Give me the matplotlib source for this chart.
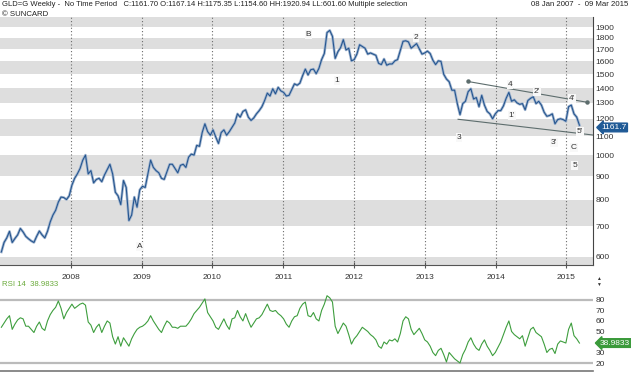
import matplotlib
matplotlib.use("Agg")
import matplotlib.pyplot as plt
import matplotlib.ticker as mticker
import pandas as pd

plt.rcParams['font.family'] = ['Liberation Sans', 'DejaVu Sans']

# gold weekly closes, read every second week off the chart (08 Jan 2007 .. 09 Mar 2015)
start = '2007-01-08'
price = [
    615, 645, 660, 682, 645, 658, 670, 692, 680, 665, 657, 650, 645, 665, 683, 670, 660, 682, 715, 740,
    758, 790, 810, 808, 800, 815,
    860, 890, 910, 935, 975, 1000, 910, 925, 870, 885, 890, 875, 905, 930, 955, 910, 830, 815, 780, 880,
    850, 720, 740, 810, 770, 840,
    855, 850, 910, 975, 940, 925, 915, 890, 885, 920, 955, 955, 935, 915, 950, 955, 940, 990, 1005, 1000,
    1050, 1045, 1120, 1170, 1125, 1105,
    1135, 1095, 1060, 1120, 1135, 1105, 1125, 1150, 1175, 1230, 1210, 1245, 1255, 1210, 1190, 1205, 1230,
    1250, 1275, 1315, 1365, 1345, 1395, 1360, 1405, 1380,
    1370, 1345, 1350, 1390, 1430, 1420, 1435, 1490, 1540, 1495, 1535, 1540, 1505, 1545, 1615, 1665, 1850,
    1870, 1815, 1625, 1680, 1715, 1785, 1695, 1710, 1605,
    1615, 1660, 1740, 1725, 1710, 1660, 1670, 1660, 1650, 1585, 1575, 1620, 1570, 1580, 1580, 1605, 1615,
    1690, 1770, 1775, 1765, 1710, 1730, 1750, 1705, 1660, 1670,
    1685, 1665, 1610, 1575, 1605, 1600, 1500, 1465, 1445, 1385, 1385, 1295, 1225, 1295, 1310, 1375, 1395,
    1325, 1335, 1275, 1350, 1285, 1245, 1230, 1200, 1230,
    1250, 1250, 1280, 1330, 1370, 1310, 1320, 1300, 1290, 1295, 1255, 1315, 1330, 1340, 1295, 1310, 1285,
    1240, 1215, 1220, 1230, 1170, 1195, 1200, 1195, 1185,
    1275, 1285, 1230, 1210, 1161.7,
]
rsi = [
    54, 58, 62, 65, 52, 57, 61, 63, 62, 55, 55, 52, 49, 55, 59, 53, 51, 60, 66, 70,
    73, 79, 72, 62, 68, 72, 76, 72, 74, 76, 77, 75, 59, 56, 49, 54, 57, 49, 55, 60,
    58, 45, 38, 45, 36, 44, 40, 36, 43, 48, 52, 54, 55, 57, 60, 65, 60, 56, 52, 49,
    55, 60, 58, 54, 54, 53, 55, 55, 55, 58, 62, 67, 70, 73, 77, 81, 68, 64, 60, 54,
    52, 57, 62, 56, 52, 62, 63, 70, 64, 60, 67, 60, 54, 58, 62, 63, 66, 71, 76, 70,
    69, 70, 67, 65, 62, 57, 54, 60, 64, 65, 72, 76, 78, 65, 64, 68, 62, 60, 70, 76,
    84, 82, 78, 55, 48, 53, 58, 55, 47, 38, 43, 46, 50, 54, 52, 50, 47, 45, 42, 36,
    34, 40, 38, 42, 41, 43, 40, 48, 60, 64, 62, 52, 47, 50, 53, 48, 42, 40, 36, 30,
    27, 32, 34, 28, 21, 30, 27, 24, 22, 20, 28, 33, 40, 44, 38, 34, 32, 38, 42, 36,
    32, 27, 30, 35, 40, 47, 54, 60, 50, 47, 45, 43, 46, 36, 44, 52, 54, 49, 47, 45,
    38, 30, 33, 34, 29, 38, 41, 40, 39, 52, 58, 46, 43, 38.9833,
]
dates = pd.date_range(start, periods=len(price), freq='14D')

price_ticks = [600, 700, 800, 900, 1000, 1100, 1200, 1300, 1400, 1500, 1600, 1700, 1800, 1900]
rsi_ticks = [20, 30, 50, 60, 70, 80]
years = list(range(2008, 2016))

# elliott wave labels: text, date, price
waves = [
    ('A', '2008-12-24', 631), ('B', '2011-05-12', 1835), ('1', '2011-10-05', 1457),
    ('2', '2012-11-15', 1807), ('3', '2013-06-26', 1090), ('4', '2014-03-15', 1428),
    ("1'", '2014-03-25', 1217), ("2'", '2014-08-01', 1379), ("3'", '2014-10-28', 1063),
    ("4'", '2015-01-30', 1331), ("5'", '2015-03-11', 1128), ('C', '2015-02-08', 1041),
    ('5', '2015-02-13', 951),
]
upper_dates = ['2013-08-11', '2015-04-16']
upper_vals = [1447, 1304]
lower_dates = ['2013-06-21', '2015-05-18']
lower_vals = [1197, 1106]

W, H = 631, 373
def box(l, t, r, b):
    return [l / W, 1 - b / H, (r - l) / W, (b - t) / H]

fig = plt.figure(figsize=(W / 100, H / 100), dpi=100)
ax = fig.add_axes(box(0, 17, 593, 265))
ax2 = fig.add_axes(box(0, 281, 593, 371))

# ---- price panel
ax.set_yscale('log')
ax.set_ylim(576, 2000)
xl = (pd.Timestamp('2007-01-01'), pd.Timestamp('2015-05-18'))
ax.set_xlim(xl)
for lo in range(500, 2000, 200):
    ax.axhspan(lo, lo + 100, color='#dedede', lw=0, zorder=0)
year_pos = [pd.Timestamp(f'{y}-01-01') for y in years]
for t in year_pos:
    ax.axvline(t, color='#6a6a6a', lw=0.8, ls=(0, (1, 2)), zorder=1)

ax.plot(dates, price, color='#9fb3ce', lw=1.9, zorder=2)
ax.plot(dates, price, color='#23548e', lw=0.75, zorder=3)

ax.plot(pd.to_datetime(upper_dates), upper_vals, color='#5d6d6d', lw=0.8, marker='o', ms=2.2, zorder=4)
ax.plot(pd.to_datetime(lower_dates), lower_vals, color='#5d6d6d', lw=0.8, zorder=4)

for t, d, v in waves:
    ax.text(pd.Timestamp(d), v, t, fontsize=6, color='#333333', ha='center', va='center', zorder=5,
            bbox=dict(boxstyle='square,pad=0.12', fc='#f8f8f8', ec='none'))

ax.yaxis.tick_right()
ax.yaxis.set_major_locator(mticker.FixedLocator(price_ticks))
ax.yaxis.set_major_formatter(mticker.FixedFormatter([str(p) for p in price_ticks]))
ax.yaxis.set_minor_locator(mticker.NullLocator())
ax.tick_params(axis='y', length=0, pad=2, labelsize=6, labelcolor='#333333')
ax.set_xticks(year_pos)
ax.set_xticklabels([str(y) for y in years])
ax.tick_params(axis='x', direction='inout', length=5, width=0.8, color='#555555', pad=4,
               labelsize=6, labelcolor='#333333')
for s in ['top', 'left']:
    ax.spines[s].set_visible(False)
ax.spines['bottom'].set_color('#555555')
ax.spines['right'].set_color('#444444')

ax.annotate(f'{price[-1]:.1f}', xy=(1.0, price[-1]), xycoords=('axes fraction', 'data'),
            xytext=(6, -1.6), textcoords='offset points', ha='left', va='center', color='white',
            fontsize=6, bbox=dict(boxstyle='larrow,pad=0.1', fc='#1f5a96', ec='#1f5a96'),
            annotation_clip=False, zorder=10)

# ---- RSI panel
ax2.set_xlim(xl)
ax2.set_ylim(12.4, 98)
ax2.axhline(80, color='#bbbbbb', lw=1.6, zorder=1)
ax2.axhline(20, color='#bbbbbb', lw=1.6, zorder=1)
ax2.plot(dates, rsi, color='#3e9e3e', lw=0.8, zorder=3)
ax2.yaxis.tick_right()
ax2.set_yticks(rsi_ticks)
ax2.tick_params(axis='y', length=0, pad=2, labelsize=6, labelcolor='#333333')
ax2.set_xticks([])
for s in ['top', 'left', 'right']:
    ax2.spines[s].set_visible(False)
ax2.spines['bottom'].set_color('#777777')
ax2.spines['bottom'].set_linewidth(1.2)
ax2.annotate(f'{rsi[-1]:.4f}', xy=(1.0, rsi[-1]), xycoords=('axes fraction', 'data'),
             xytext=(5, 0), textcoords='offset points', ha='left', va='center', color='white',
             fontsize=6, bbox=dict(boxstyle='larrow,pad=0.1', fc='#3a9a3a', ec='#3a9a3a'),
             annotation_clip=False, zorder=10)

# ---- header texts
fig.text(2 / W, 1 - 5 / H, 'GLD=G Weekly -  No Time Period   C:1161.70 O:1167.14 H:1175.35 '
         'L:1154.60 HH:1920.94 LL:601.60 Multiple selection', fontsize=5.5, va='center', color='#222222')
fig.text(628 / W, 1 - 5 / H, '08 Jan 2007  -  09 Mar 2015', fontsize=5.6, va='center', ha='right',
         color='#222222')
fig.text(2 / W, 1 - 14 / H, '\u00a9 SUNCARD', fontsize=5.6, va='center', color='#222222')
fig.text(2 / W, 1 - 285 / H, 'RSI 14  38.9833', fontsize=5.6, va='center', color='#6aaa3a')
fig.text(598 / W, 1 - 279 / H, '\u25b2', fontsize=3.5, va='center', ha='center', color='#333333')
fig.text(598 / W, 1 - 284 / H, '\u25bc', fontsize=3.5, va='center', ha='center', color='#333333')

fig.savefig('out.png', dpi=100)
